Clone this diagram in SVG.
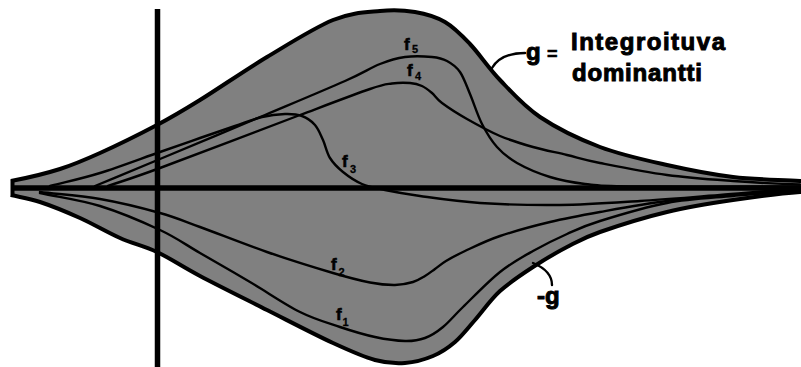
<svg xmlns="http://www.w3.org/2000/svg" width="801" height="367" viewBox="0 0 801 367">
<style>
.fill{fill:#808080;stroke:none}
.bound{fill:none;stroke:#000;stroke-width:4;stroke-linejoin:round}
.f{fill:none;stroke:#000;stroke-width:2.4;stroke-linecap:round}
.axis{stroke:#000;stroke-width:5.5}
.lbl{font-family:"Liberation Sans",Arial,sans-serif;font-weight:bold;fill:#000;stroke:#000;stroke-width:0.6}
.big{stroke-width:1}
.fn{font-size:17px}
.sub{font-size:11px;stroke-width:0.3}
</style>
<rect width="801" height="367" fill="#fff"/>
<g id="region">
<path class="fill" d="M11,181 C27,178 45.2,173.7 60,169 S83.8,160.3 100,153 S140.3,133.8 157,125 S181.7,111.3 200,100 S244.8,70.3 267,57 S314.2,27.7 333,20 S366.3,12.3 380,11 S404.2,10.2 415,12 S435.8,16.7 445,22 S460.8,34.3 470,44 S488.3,67.8 500,80 S523.3,105.8 540,117 S578.8,139 600,147 S644.8,160 667,165 S710.8,174.3 733,177 S778,179.7 800,181 L801,181 L801,189 L11,189 Z"/>
<path class="fill" d="M11,195 C20.7,197.3 28.5,198.2 40,202 S66.7,212 80,218 S107.2,232.3 120,238 S143.7,245.7 157,252 S181.7,266.3 200,276 S244.8,298.8 267,310 S315,334.7 333,343 S363,356.7 375,360 S395.3,363.7 405,363 S424.7,359.5 433,356 S448,348 455,342 S467.5,328.5 475,320 S490.3,299.8 500,291 S521.8,274.3 533,267 S555.8,252.8 567,247 S583.3,237.8 600,232 S644.8,217.3 667,212 S710.8,203.3 733,200 S778,193.5 800,192 L801,192 L801,187 L11,187 Z"/>
</g>
<g id="curves">
<path id="f5" class="f" d="M95,186 C116.7,177 131.7,170.8 160,159 S234.2,128 265,115 S325.8,89.5 345,81 S370,68 380,64 S396.3,58.2 405,57 S425,56.3 432,57 S442.3,58.5 447,61 S456.2,66.5 460,72 S466.3,85.3 470,94 S477.5,115.2 482,124 S491.2,140.5 497,147 S508.2,158 517,163 S538.7,173.5 550,177 S571.7,182.4 585,184 S594.2,186.1 630,186.5 S770,186.5 800,186.5"/>
<path id="f4" class="f" d="M108,186 C125.3,180 128,179.8 160,168 S265,128.2 300,115 S354.7,94.25 370,89 S385.3,84.5 392,83.5 S405,82.6 410,83 S418.3,84.3 422,86 S428.7,90.2 432,93 S436.2,98.7 442,103 S457.3,113.5 467,119 S489,131.3 500,136 S521.8,143.8 533,147 S555.8,152.3 567,155 S583.3,159.7 600,163 S644.8,172 667,175 S710.8,179.4 733,181 S778,184 800,184.5"/>
<path id="f3" class="f" d="M50,186 C66.7,181.7 81.7,178.7 100,173 S143.3,157.8 160,152 S187.5,142.3 200,138 S224.7,129.5 235,126 S253.7,119 262,117 S278.3,114.2 285,114 S297,114.2 302,116 S311.5,121 315,125 S320.5,134.5 323,140 S326.7,152.7 330,158 S337.7,167.7 343,172 S355,181 362,184 S375.3,188 385,190 S404.2,193.8 420,196 S456.7,201.5 480,203 S533.3,205.3 560,205 S613.3,202.7 640,201 S693.3,197 720,195 S773,190 800,189"/>
<path id="f2" class="f" d="M40,192 C60,194.3 80,195.5 100,199 S143.3,208.3 160,213 S182.2,220.5 200,227 S244.8,244.3 267,252 S315.8,267.9 333,273 S359.7,280.5 370,282.5 S387.8,285.1 395,285 S408,283.5 413,282 S421.3,278.2 425,276 S431.5,271.5 435,269 S441,264 446,261 S456,255.2 465,251 S485.8,240.8 500,236 S533.3,226 550,222 S580.5,215.5 600,212 S644.8,203.8 667,201 S710.8,196.7 733,195 S778,191.8 800,191"/>
<path id="f1" class="f" d="M40,193 C60,197.3 80,199.8 100,206 S143.3,222.2 160,230 S185,244.3 200,253 S233.3,272.2 250,282 S285,304.5 300,312 S327.5,322.8 340,327 S364.2,334.7 375,337 S396.7,340.8 405,341 S418.7,340.3 425,338 S436.7,332.2 443,327 S453.5,316.2 463,307 S488.3,281.3 500,272 S521.8,257.3 533,251 S555.8,239 567,234 S583.3,226.2 600,221 S644.8,207.2 667,203 S710.8,198 733,196 S778,191.8 800,191"/>
</g>
<g id="axes">
<line class="axis" x1="11" y1="188" x2="801" y2="188"/>
<line class="axis" x1="157.5" y1="9" x2="157.5" y2="367"/>
</g>
<g id="g-bound">
<path id="g" class="bound" d="M11,181 C27,178 45.2,173.7 60,169 S83.8,160.3 100,153 S140.3,133.8 157,125 S181.7,111.3 200,100 S244.8,70.3 267,57 S314.2,27.7 333,20 S366.3,12.3 380,11 S404.2,10.2 415,12 S435.8,16.7 445,22 S460.8,34.3 470,44 S488.3,67.8 500,80 S523.3,105.8 540,117 S578.8,139 600,147 S644.8,160 667,165 S710.8,174.3 733,177 S778,179.7 800,181 L801,181"/>
<path id="minus-g" class="bound" d="M11,195 C20.7,197.3 28.5,198.2 40,202 S66.7,212 80,218 S107.2,232.3 120,238 S143.7,245.7 157,252 S181.7,266.3 200,276 S244.8,298.8 267,310 S315,334.7 333,343 S363,356.7 375,360 S395.3,363.7 405,363 S424.7,359.5 433,356 S448,348 455,342 S467.5,328.5 475,320 S490.3,299.8 500,291 S521.8,274.3 533,267 S555.8,252.8 567,247 S583.3,237.8 600,232 S644.8,217.3 667,212 S710.8,203.3 733,200 S778,193.5 800,192 L801,192"/>
<line x1="12.5" y1="179.5" x2="12.5" y2="197" stroke="#000" stroke-width="4"/>
</g>
<g id="leaders">
<path class="f" d="M492,68 C498,58 508,53 525,53"/>
<path class="f" d="M533,263 C545,268 552,275 552,285"/>
</g>
<g id="labels" class="lbl">
<text class="fn" x="404" y="50">f</text><text class="sub" x="412" y="53">5</text>
<text class="fn" x="407" y="76">f</text><text class="sub" x="415" y="80">4</text>
<text class="fn" x="342" y="167">f</text><text class="sub" x="350" y="173">3</text>
<text class="fn" x="331" y="270">f</text><text class="sub" x="338.5" y="276">2</text>
<text class="fn" x="336" y="320">f</text><text class="sub" x="342.5" y="326">1</text>
<text class="big" x="526" y="60" font-size="24">g</text>
<text x="547" y="60" font-size="18">=</text>
<text class="big" x="571" y="50" font-size="24" textLength="154" lengthAdjust="spacing">Integroituva</text>
<text class="big" x="572" y="81" font-size="24" textLength="130" lengthAdjust="spacing">dominantti</text>
<text class="big" x="537" y="304" font-size="24">-g</text>
</g>
</svg>
